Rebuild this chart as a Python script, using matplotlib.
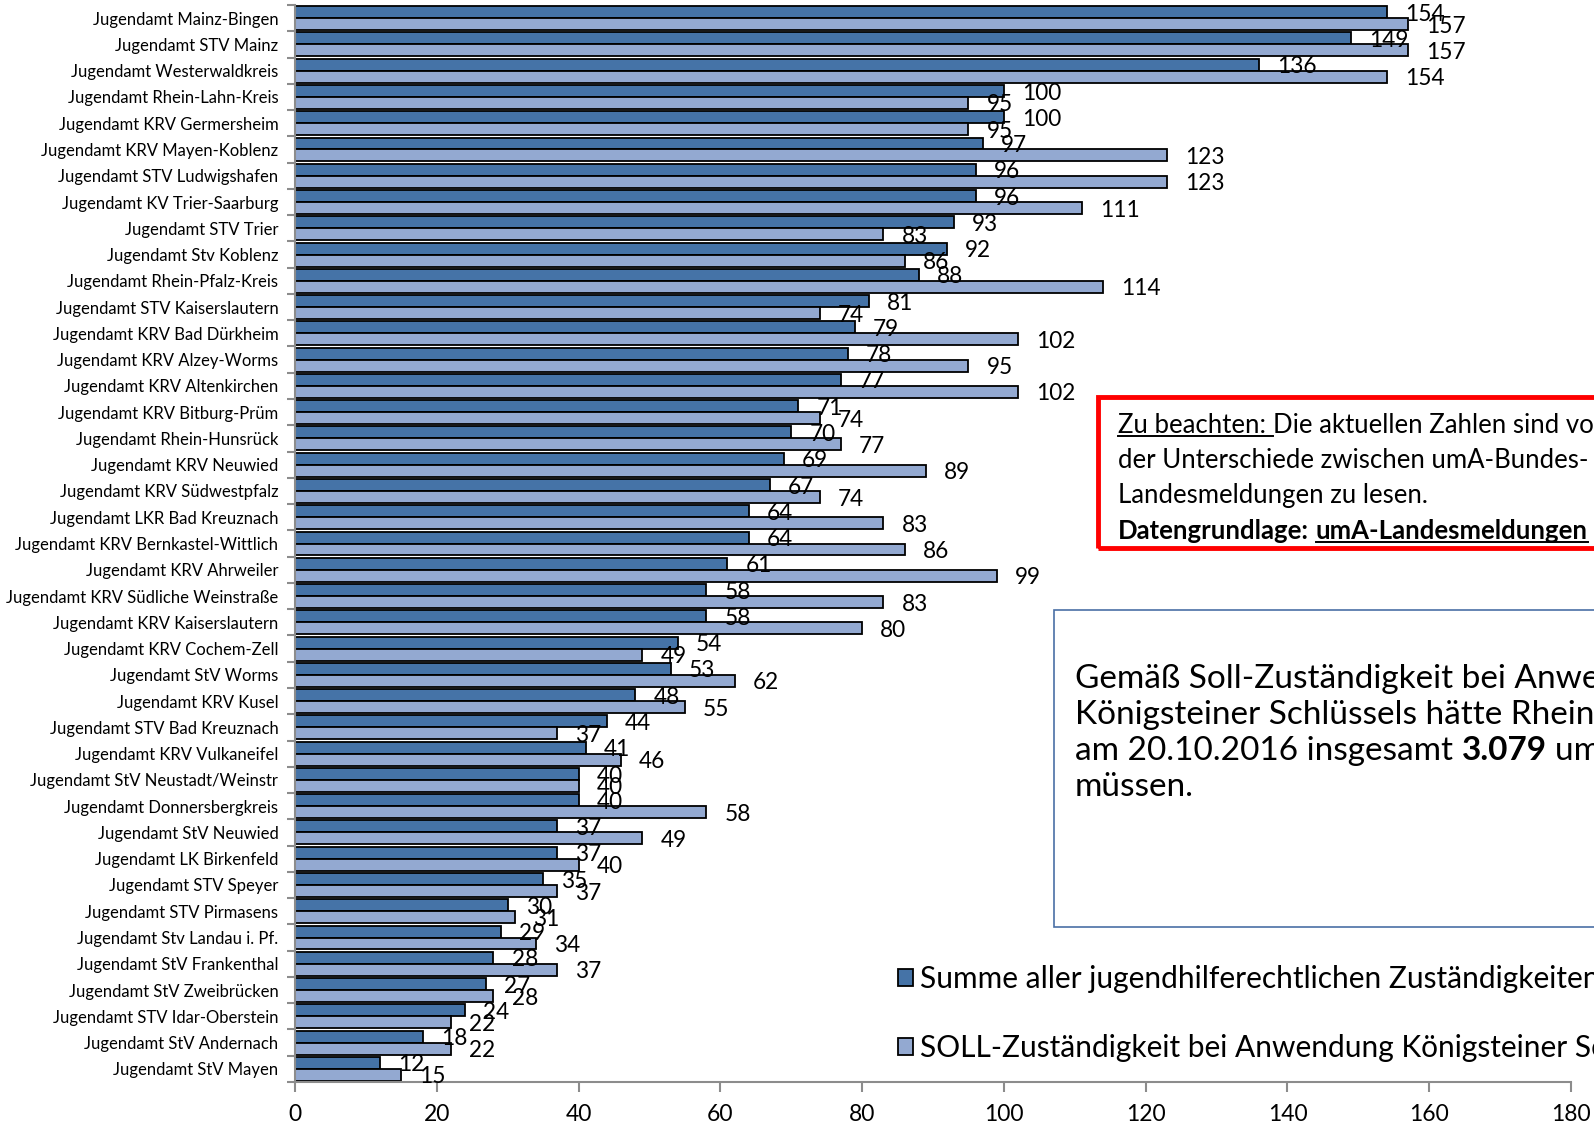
import matplotlib
matplotlib.use("Agg")
import matplotlib.pyplot as plt
from matplotlib.patches import Rectangle
from matplotlib.lines import Line2D
import numpy as np

plt.rcParams['font.family'] = ['Lato', 'DejaVu Sans']

# Jugendaemter, sorted as in the source chart (top to bottom)
aemter = [
    "Jugendamt Mainz-Bingen", "Jugendamt STV Mainz", "Jugendamt Westerwaldkreis",
    "Jugendamt Rhein-Lahn-Kreis", "Jugendamt KRV Germersheim", "Jugendamt KRV Mayen-Koblenz",
    "Jugendamt STV Ludwigshafen", "Jugendamt KV Trier-Saarburg", "Jugendamt STV Trier",
    "Jugendamt Stv Koblenz", "Jugendamt Rhein-Pfalz-Kreis", "Jugendamt STV Kaiserslautern",
    "Jugendamt KRV Bad Dürkheim", "Jugendamt KRV Alzey-Worms", "Jugendamt KRV Altenkirchen",
    "Jugendamt KRV Bitburg-Prüm", "Jugendamt Rhein-Hunsrück", "Jugendamt KRV Neuwied",
    "Jugendamt KRV Südwestpfalz", "Jugendamt LKR Bad Kreuznach", "Jugendamt KRV Bernkastel-Wittlich",
    "Jugendamt KRV Ahrweiler", "Jugendamt KRV Südliche Weinstraße", "Jugendamt KRV Kaiserslautern",
    "Jugendamt KRV Cochem-Zell", "Jugendamt StV Worms", "Jugendamt KRV Kusel",
    "Jugendamt STV Bad Kreuznach", "Jugendamt KRV Vulkaneifel", "Jugendamt StV Neustadt/Weinstr",
    "Jugendamt Donnersbergkreis", "Jugendamt StV Neuwied", "Jugendamt LK Birkenfeld",
    "Jugendamt STV Speyer", "Jugendamt STV Pirmasens", "Jugendamt Stv Landau i. Pf.",
    "Jugendamt StV Frankenthal", "Jugendamt StV Zweibrücken", "Jugendamt STV Idar-Oberstein",
    "Jugendamt StV Andernach", "Jugendamt StV Mayen",
]
summe = [154, 149, 136, 100, 100, 97, 96, 96, 93, 92, 88, 81, 79, 78, 77,
         71, 70, 69, 67, 64, 64, 61, 58, 58, 54, 53, 48, 44, 41, 40,
         40, 37, 37, 35, 30, 29, 28, 27, 24, 18, 12]
soll = [157, 157, 154, 95, 95, 123, 123, 111, 83, 86, 114, 74, 102, 95, 102,
        74, 77, 89, 74, 83, 86, 99, 83, 80, 49, 62, 55, 37, 46, 40,
        58, 49, 40, 37, 31, 34, 37, 28, 22, 22, 15]
xticks = [0, 20, 40, 60, 80, 100, 120, 140, 160, 180]

label_summe = "Summe aller jugendhilferechtlichen Zuständigkeiten am 20.10.2016"
label_soll = "SOLL-Zuständigkeit bei Anwendung Königsteiner Schlüssel"

W, H = 1594, 1132
dark = "#4573A7"
light = "#93A9D1"
grey = "#8C8C8C"

fig = plt.figure(figsize=(W / 100, H / 100), dpi=100)
ax = fig.add_axes([295 / W, 1 - 1082 / H, (1571 - 295) / W, (1082 - 5) / H])

y = np.arange(len(aemter))
h = 0.455
b1 = ax.barh(y - h / 2, summe, height=h, color=dark, edgecolor="black", linewidth=1.3,
             label=label_summe)
b2 = ax.barh(y + h / 2, soll, height=h, color=light, edgecolor="black", linewidth=1.3,
             label=label_soll)

for bars, vals in ((b1, summe), (b2, soll)):
    for r, v in zip(bars, vals):
        ax.annotate(str(v), (v, r.get_y() + r.get_height() / 2), xytext=(13, -1.5),
                    textcoords="offset points", ha="left", va="center", fontsize=16.3,
                    color="black", annotation_clip=False)

ax.set_ylim(len(aemter) - 0.5, -0.5)
ax.set_xlim(0, 180)
ax.set_xticks(xticks)
ax.set_xticklabels([str(t) for t in xticks], fontsize=16.5)
ax.set_yticks(np.arange(len(aemter) + 1) - 0.5)
ax.set_yticklabels([])
ax.set_yticks(y, minor=True)
ax.set_yticklabels(aemter, minor=True, fontsize=12)
ax.tick_params(axis="y", which="minor", length=0, pad=12)
ax.tick_params(axis="y", which="major", length=6, width=1.5, color=grey)
ax.tick_params(axis="x", length=7, width=1.5, color=grey, pad=9)
for s in ("top", "right"):
    ax.spines[s].set_visible(False)
for s in ("left", "bottom"):
    ax.spines[s].set_color(grey)
    ax.spines[s].set_linewidth(1.5)

ax.legend(handles=[b1, b2], loc="upper left", bbox_to_anchor=(886 / W, 1 - 953 / H),
          bbox_transform=fig.transFigure, frameon=False, fontsize=21.5,
          handlelength=0.5, handleheight=0.5, handletextpad=0.25, labelspacing=1.38,
          borderaxespad=0)

# text boxes on the right (cut off at figure edge like the original)
fig.patches.append(Rectangle((1098 / W, 1 - 548 / H), 600 / W, 151 / H,
                             transform=fig.transFigure, fill=False,
                             edgecolor="#FF0000", linewidth=3.5))
fig.patches.append(Rectangle((1054 / W, 1 - 927 / H), 600 / W, 317 / H,
                             transform=fig.transFigure, facecolor="white",
                             edgecolor="#4A6FA5", linewidth=1.2, zorder=0))

renderer = fig.canvas.get_renderer()


def put_line(x, yb, parts, size):
    """Write runs of (text, bold, underline) side by side, baseline at pixel yb."""
    probe_a = fig.text(0, 0, "xx", fontsize=size)
    probe_b = fig.text(0, 0, "x x", fontsize=size)
    sp = probe_b.get_window_extent(renderer).width - probe_a.get_window_extent(renderer).width
    probe_a.remove()
    probe_b.remove()
    for s, bold, under in parts:
        lead = s.startswith(" ")
        trail = s.endswith(" ")
        if lead:
            x += sp
        t = fig.text(x / W, 1 - yb / H, s.strip(" "), fontsize=size,
                     fontweight="bold" if bold else "normal", va="baseline", ha="left")
        bb = t.get_window_extent(renderer)
        x_end = bb.x1 + (sp if trail else 0)
        if under:
            fig.add_artist(Line2D([x / W, x_end / W], [1 - (yb + 3) / H] * 2,
                                  transform=fig.transFigure, color="black", linewidth=1.4))
        x = x_end


put_line(1118, 433, [("Zu beachten: ", False, True),
                     ("Die aktuellen Zahlen sind vor dem", False, False)], 18.5)
put_line(1118, 468, [("der Unterschiede zwischen umA-Bundes- und", False, False)], 18.5)
put_line(1118, 503, [("Landesmeldungen zu lesen.", False, False)], 18.5)
put_line(1118, 539, [("Datengrundlage: ", True, False),
                     ("umA-Landesmeldungen", True, True)], 18.5)

put_line(1075, 688, [("Gemäß Soll-Zuständigkeit bei Anwendung des", False, False)], 24)
put_line(1075, 724, [("Königsteiner Schlüssels hätte Rheinland-Pfalz", False, False)], 24)
put_line(1075, 760, [("am 20.10.2016 insgesamt ", False, False), ("3.079", True, False),
                     (" umA aufnehmen", False, False)], 24)
put_line(1075, 796, [("müssen.", False, False)], 24)

fig.savefig("out.png", dpi=100)
